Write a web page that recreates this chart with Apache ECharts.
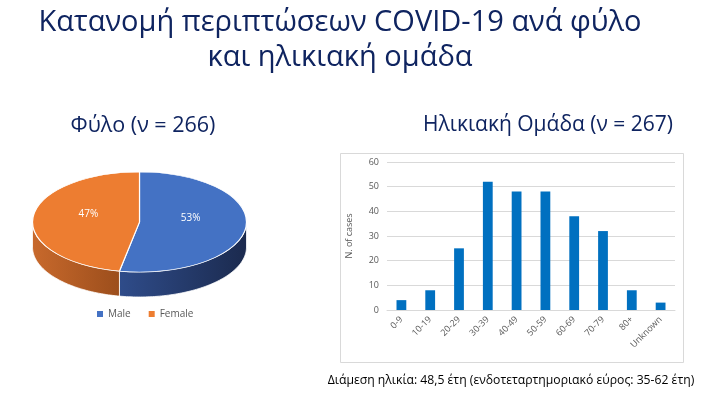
<!DOCTYPE html>
<html><head><meta charset="utf-8">
<script src="https://cdn.jsdelivr.net/npm/echarts@6/dist/echarts.min.js"></script>
<style>html,body{margin:0;padding:0;background:#fff}#c{width:702px;height:396px}</style>
</head><body><div id="c"></div>
<script>
// ---- data ----
const titleLines = ['Κατανομή περιπτώσεων COVID-19 ανά φύλο', 'και ηλικιακή ομάδα'];
const pieTitle = 'Φύλο (ν = 266)';
const barTitle = 'Ηλικιακή Ομάδα (ν = 267)';
const sexCategories = ['Male', 'Female'];
const sexPercent = [53, 47];
const ageGroups = ['0-9', '10-19', '20-29', '30-39', '40-49', '50-59', '60-69', '70-79', '80+', 'Unknown'];
const ageCases = [4, 8, 25, 52, 48, 48, 38, 32, 8, 3];
const yAxisName = 'N. of cases';
const footnote = 'Διάμεση ηλικία: 48,5 έτη (ενδοτεταρτημοριακό εύρος: 35-62 έτη)';

// ---- styling ----
const FONT = '"Open Sans", "Noto Sans", sans-serif';
const NAVY = '#0F2460';
const topColors = ['#4472C4', '#ED7D31'];
const sideColors = [['#2F4C8A', '#1B2A4E'], ['#C8692C', '#9C4E1C']];
const P = { cx: 139.5, cy: 222, rx: 107, ry: 50, depth: 25 };

const total = sexPercent.reduce((a, b) => a + b, 0);

function pieRender(sIdx) {
  return function (params, api) {
    const v = api.value(0);
    let start = 0;
    for (let k = 0; k < sIdx; k++) start += sexPercent[k];
    const a1 = -Math.PI / 2 + start / total * Math.PI * 2;
    const a2 = a1 + v / total * Math.PI * 2;
    const children = [];
    const s1 = Math.max(a1, 0), s2 = Math.min(a2, Math.PI);
    if (s2 > s1) {
      const pts = [];
      const N = 80;
      for (let i = 0; i <= N; i++) {
        const t = s1 + (s2 - s1) * i / N;
        pts.push([P.cx + P.rx * Math.cos(t), P.cy + P.ry * Math.sin(t)]);
      }
      for (let i = N; i >= 0; i--) {
        const t = s1 + (s2 - s1) * i / N;
        pts.push([P.cx + P.rx * Math.cos(t), P.cy + P.depth + P.ry * Math.sin(t)]);
      }
      children.push({
        type: 'polygon', shape: { points: pts },
        style: {
          fill: { type: 'linear', x: 0, y: 0, x2: 1, y2: 0,
            colorStops: [{ offset: 0, color: sideColors[sIdx][0] }, { offset: 1, color: sideColors[sIdx][1] }] },
          stroke: '#ffffff', lineWidth: 0.8
        }
      });
    }
    children.push({
      type: 'group', x: P.cx, y: P.cy, scaleY: P.ry / P.rx,
      children: [{
        type: 'sector',
        shape: { cx: 0, cy: 0, r: P.rx, r0: 0, startAngle: a1, endAngle: a2, clockwise: true },
        style: { fill: topColors[sIdx], stroke: '#ffffff', lineWidth: 1.2 }
      }]
    });
    const mid = (a1 + a2) / 2;
    children.push({
      type: 'text',
      x: P.cx + P.rx * 0.48 * Math.cos(mid),
      y: P.cy + P.ry * 0.48 * Math.sin(mid) - 6,
      style: { text: Math.round(v / total * 100) + '%', fill: '#ffffff', fontSize: 10, fontFamily: FONT, align: 'center', verticalAlign: 'middle' }
    });
    return { type: 'group', children: children };
  };
}

const chart = echarts.init(document.getElementById('c'), null, { renderer: 'canvas' });
const option = {
  animation: false,
  backgroundColor: '#ffffff',
  textStyle: { fontFamily: FONT },
  graphic: [
    { type: 'text', x: 340, y: 23, style: { text: titleLines[0], fill: NAVY, fontSize: 29, fontFamily: FONT, align: 'center', verticalAlign: 'middle' } },
    { type: 'text', x: 340, y: 58, style: { text: titleLines[1], fill: NAVY, fontSize: 29, fontFamily: FONT, align: 'center', verticalAlign: 'middle' } },
    { type: 'text', x: 143, y: 126, style: { text: pieTitle, fill: NAVY, fontSize: 21.5, fontFamily: FONT, align: 'center', verticalAlign: 'middle' } },
    { type: 'text', x: 548, y: 125, style: { text: barTitle, fill: NAVY, fontSize: 21, fontFamily: FONT, align: 'center', verticalAlign: 'middle' } },
    { type: 'rect', shape: { x: 340.5, y: 153.5, width: 343, height: 209 }, style: { fill: 'none', stroke: '#D9D9D9', lineWidth: 1 } },
    { type: 'text', x: 511, y: 381, style: { text: footnote, fill: '#000000', fontSize: 12.2, fontFamily: FONT, align: 'center', verticalAlign: 'middle' } }
  ],
  legend: {
    data: sexCategories,
    left: 92, top: 304,
    icon: 'rect', itemWidth: 6, itemHeight: 6, itemGap: 18,
    textStyle: { color: '#595959', fontSize: 10, fontFamily: FONT },
    selectedMode: false
  },
  grid: { left: 387, right: 27, top: 162, bottom: 86, containLabel: false },
  xAxis: {
    type: 'category', data: ageGroups,
    axisLine: { lineStyle: { color: '#D9D9D9' } },
    axisTick: { show: false },
    axisLabel: { rotate: 45, color: '#595959', fontSize: 9, margin: 8, interval: 0 }
  },
  yAxis: {
    type: 'value', min: 0, max: 60, interval: 10,
    name: yAxisName, nameLocation: 'middle', nameRotate: 90, nameGap: 33,
    nameTextStyle: { color: '#595959', fontSize: 9 },
    axisLine: { show: false }, axisTick: { show: false },
    axisLabel: { color: '#595959', fontSize: 9, margin: 8 },
    splitLine: { lineStyle: { color: '#D9D9D9' } }
  },
  series: [
    { type: 'bar', data: ageCases, barWidth: '34%', itemStyle: { color: '#0070C0' }, silent: true },
    { name: sexCategories[0], type: 'custom', coordinateSystem: 'none', renderItem: pieRender(0), data: [[sexPercent[0]]], itemStyle: { color: topColors[0] }, silent: true },
    { name: sexCategories[1], type: 'custom', coordinateSystem: 'none', renderItem: pieRender(1), data: [[sexPercent[1]]], itemStyle: { color: topColors[1] }, silent: true }
  ]
};
chart.setOption(option);
</script>
</body></html>
